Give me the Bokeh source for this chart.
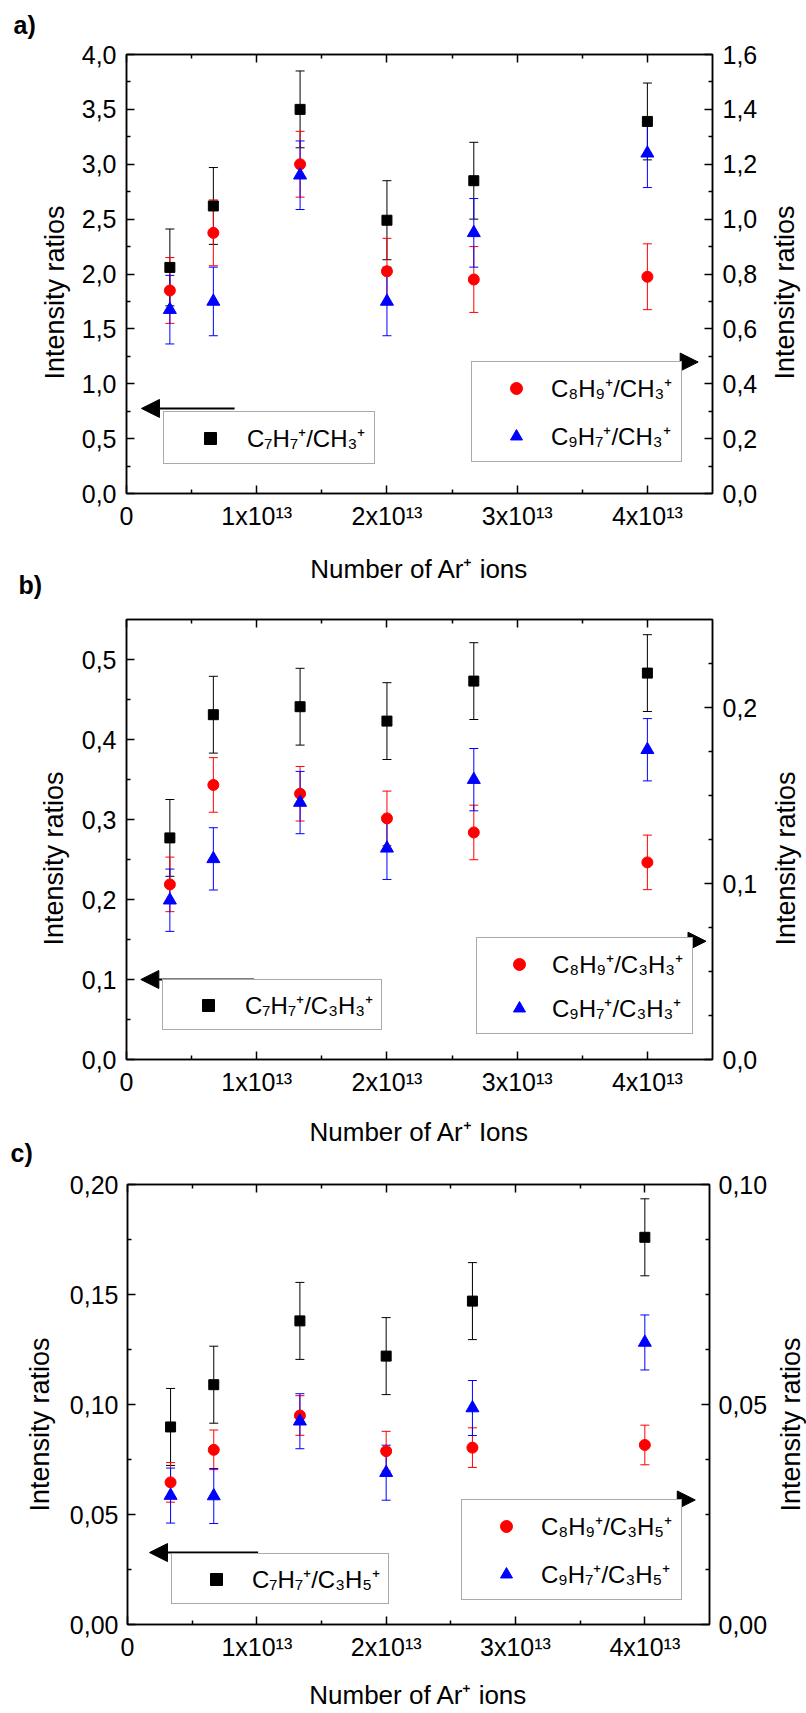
import math
from bokeh.plotting import figure
from bokeh.models import (LinearAxis, Range1d, FixedTicker, CustomJSTickFormatter,
                          Whisker, TeeHead, ColumnDataSource, Legend, LegendItem,
                          Arrow, NormalHead, Label)
from bokeh.layouts import column, row
from bokeh.embed import file_html
from bokeh.resources import INLINE

FONT = "Liberation Sans"

# ---------------- data ----------------
ions = [0.333e13, 0.667e13, 1.333e13, 2.0e13, 2.667e13, 4.0e13]

# panel a (C7H7+ on left axis, C8H9+ and C9H7+ on right axis)
a_c7h7 = [2.06, 2.62, 3.50, 2.49, 2.85, 3.39]
a_c7h7_err = [0.35, 0.35, 0.35, 0.36, 0.35, 0.35]
a_c8h9 = [0.74, 0.95, 1.20, 0.81, 0.78, 0.79]
a_c8h9_err = [0.12, 0.12, 0.12, 0.12, 0.12, 0.12]
a_c9h7 = [0.67, 0.70, 1.16, 0.70, 0.95, 1.24]
a_c9h7_err = [0.125, 0.125, 0.125, 0.125, 0.125, 0.125]

# panel b
b_c7h7 = [0.277, 0.431, 0.441, 0.423, 0.473, 0.483]
b_c7h7_err = [0.048, 0.048, 0.048, 0.048, 0.048, 0.048]
b_c8h9 = [0.0995, 0.156, 0.151, 0.137, 0.129, 0.112]
b_c8h9_err = [0.0155, 0.0155, 0.0155, 0.0155, 0.0155, 0.0155]
b_c9h7 = [0.0905, 0.114, 0.146, 0.120, 0.159, 0.176]
b_c9h7_err = [0.0177, 0.0177, 0.0177, 0.0177, 0.0177, 0.0177]

# panel c
c_c7h7 = [0.0898, 0.109, 0.138, 0.122, 0.147, 0.176]
c_c7h7_err = [0.0175, 0.0175, 0.0175, 0.0175, 0.0175, 0.0175]
c_c8h9 = [0.0323, 0.0397, 0.0475, 0.0394, 0.0402, 0.0408]
c_c8h9_err = [0.0045, 0.0045, 0.0045, 0.0045, 0.0045, 0.0045]
c_c9h7 = [0.0293, 0.0292, 0.0462, 0.0345, 0.0492, 0.0641]
c_c9h7_err = [0.00625, 0.00625, 0.00625, 0.00625, 0.00625, 0.00625]

x_major = [0, 1e13, 2e13, 3e13, 4e13]
x_minor = [0.5e13, 1.5e13, 2.5e13, 3.5e13]

a_left_major = [0, 0.5, 1.0, 1.5, 2.0, 2.5, 3.0, 3.5, 4.0]
a_left_minor = [0.25, 0.75, 1.25, 1.75, 2.25, 2.75, 3.25, 3.75]
a_right_major = [0, 0.2, 0.4, 0.6, 0.8, 1.0, 1.2, 1.4, 1.6]
a_right_minor = [0.1, 0.3, 0.5, 0.7, 0.9, 1.1, 1.3, 1.5]

b_left_major = [0, 0.1, 0.2, 0.3, 0.4, 0.5]
b_left_minor = [0.05, 0.15, 0.25, 0.35, 0.45]
b_right_major = [0, 0.1, 0.2]
b_right_minor = [0.025, 0.05, 0.075, 0.125, 0.15, 0.175, 0.225]

c_left_major = [0, 0.05, 0.10, 0.15, 0.20]
c_left_minor = [0.025, 0.075, 0.125, 0.175]
c_right_major = [0, 0.05, 0.10]
c_right_minor = [0.0125, 0.025, 0.0375, 0.0625, 0.075, 0.0875]

a_labels = ["C\u2087H\u2087\u207a/CH\u2083\u207a", "C\u2088H\u2089\u207a/CH\u2083\u207a", "C\u2089H\u2087\u207a/CH\u2083\u207a"]
b_labels = ["C\u2087H\u2087\u207a/C\u2083H\u2083\u207a", "C\u2088H\u2089\u207a/C\u2083H\u2083\u207a", "C\u2089H\u2087\u207a/C\u2083H\u2083\u207a"]
c_labels = ["C\u2087H\u2087\u207a/C\u2083H\u2085\u207a", "C\u2088H\u2089\u207a/C\u2083H\u2085\u207a", "C\u2089H\u2087\u207a/C\u2083H\u2085\u207a"]

Y_TITLE = "Intensity ratios"

X_FMT = ("if (Math.abs(tick) < 1) { return '0'; } "
         "return Math.round(tick / 1e13) + 'x10\u00b9\u00b3';")

PAGE_W = 806
FRAME_W = 586


def style_axis(ax, size="25px"):
    ax.axis_line_color = "black"
    ax.axis_line_width = 1.5
    ax.major_tick_line_color = "black"
    ax.major_tick_line_width = 1.5
    ax.minor_tick_line_color = "black"
    ax.minor_tick_line_width = 1.5
    ax.major_tick_in = 8
    ax.major_tick_out = 0
    ax.minor_tick_in = 4
    ax.minor_tick_out = 0
    ax.major_label_text_font = FONT
    ax.major_label_text_font_size = size
    ax.major_label_text_color = "black"
    ax.axis_label_text_font = FONT
    ax.axis_label_text_font_size = "26px"
    ax.axis_label_text_font_style = "normal"
    ax.axis_label_text_color = "black"


def add_series(p, y, err, color, marker, size, rname):
    src = ColumnDataSource(dict(x=ions, y=y,
                                lo=[v - e for v, e in zip(y, err)],
                                hi=[v + e for v, e in zip(y, err)]))
    w = Whisker(source=src, base="x", upper="hi", lower="lo", dimension="height",
                line_color=color, line_width=1, y_range_name=rname,
                upper_head=TeeHead(size=9, line_color=color, line_width=1),
                lower_head=TeeHead(size=9, line_color=color, line_width=1))
    p.add_layout(w)
    r = p.scatter("x", "y", source=src, marker=marker, size=size,
                  fill_color=color, line_color=color, y_range_name=rname)
    return r


def make_legend(items, loc, pad, spacing, gw, ls):
    return Legend(items=items, location=loc, orientation="vertical", margin=0,
                  padding=pad, spacing=spacing, glyph_width=gw, glyph_height=30,
                  label_height=30, label_standoff=ls, label_text_font=FONT,
                  label_text_font_size="24px", label_text_color="black",
                  border_line_color="#555555", border_line_width=1.5,
                  background_fill_color="white", background_fill_alpha=1.0)


def side_fig(width, height, texts):
    """A blank strip holding free text (panel letters, axis titles)."""
    f = figure(width=width, height=height, x_range=Range1d(0, width), y_range=Range1d(0, height),
               output_backend="svg", toolbar_location=None, title=None,
               x_axis_location=None, y_axis_location=None, frame_align=False,
               min_border_left=0, min_border_right=0, min_border_top=0, min_border_bottom=0)
    for g in f.grid:
        g.visible = False
    f.outline_line_color = None
    f.background_fill_color = "white"
    f.border_fill_color = "white"
    for (x, y, txt, size, style, angle, align) in texts:
        f.add_layout(Label(x=x, y=y, text=txt, angle=angle, text_font=FONT,
                           text_font_size=size, text_font_style=style, text_color="black",
                           text_baseline="middle", text_align=align))
    return f


def make_panel(cfg):
    lw = cfg["left_w"]            # width of the strip left of the plot
    lb = 126 - lw                 # plot's own left border -> frame starts at x=126
    rb = cfg["right"]
    p = figure(width=lb + FRAME_W + rb, height=cfg["height"], title=None,
               x_range=Range1d(0, 4.5e13), y_range=Range1d(0, cfg["ymax_l"]),
               output_backend="svg", toolbar_location=None, frame_align=False,
               min_border_left=lb, min_border_right=rb,
               min_border_top=cfg["top"], min_border_bottom=cfg["bottom"])
    p.extra_y_ranges = {"r": Range1d(0, cfg["ymax_r"])}
    p.xgrid.visible = False
    p.ygrid.visible = False
    p.outline_line_color = "black"
    p.outline_line_width = 1.5
    p.outline_line_alpha = 1.0
    p.background_fill_color = "white"
    p.border_fill_color = "white"

    xa = p.xaxis[0]
    style_axis(xa)
    xa.ticker = FixedTicker(ticks=x_major, minor_ticks=x_minor)
    xa.formatter = CustomJSTickFormatter(code=X_FMT)
    xa.axis_label = cfg["xlabel"]
    xa.major_label_standoff = 8
    xa.axis_label_standoff = cfg["x_title_standoff"]

    top = LinearAxis(ticker=FixedTicker(ticks=x_major, minor_ticks=x_minor))
    style_axis(top, "1px")
    top.major_label_text_color = None
    top.major_label_standoff = 0
    p.add_layout(top, "above")

    ya = p.yaxis[0]
    style_axis(ya)
    ya.ticker = FixedTicker(ticks=cfg["l_major"], minor_ticks=cfg["l_minor"])
    ya.formatter = CustomJSTickFormatter(
        code="return tick.toFixed(%d).replace('.', ',');" % cfg["l_dec"])
    ya.major_label_standoff = cfg["l_standoff"]

    ra = LinearAxis(y_range_name="r",
                    ticker=FixedTicker(ticks=cfg["r_major"], minor_ticks=cfg["r_minor"]),
                    formatter=CustomJSTickFormatter(
                        code="return tick.toFixed(%d).replace('.', ',');" % cfg["r_dec"]))
    style_axis(ra)
    ra.major_label_standoff = cfg["r_standoff"]
    p.add_layout(ra, "right")

    r_black = add_series(p, cfg["s7"], cfg["s7e"], "black", "square", 10, "default")
    r_red = add_series(p, cfg["s8"], cfg["s8e"], "red", "circle", 11, "r")
    r_blue = add_series(p, cfg["s9"], cfg["s9e"], "blue", "triangle", 13, "r")

    labels = cfg["labels"]
    ll = cfg["leg_left"]
    lr = cfg["leg_right"]
    p.add_layout(make_legend([LegendItem(label=labels[0], renderers=[r_black])],
                             ll[0], ll[1], 0, ll[2], ll[3]))
    p.add_layout(make_legend([LegendItem(label=labels[1], renderers=[r_red]),
                              LegendItem(label=labels[2], renderers=[r_blue])],
                             lr[0], lr[1], lr[4], lr[2], lr[3]))

    al = cfg["arrow_left"]
    ar = cfg["arrow_right"]
    p.add_layout(Arrow(end=NormalHead(size=18, fill_color="black", line_color="black", line_width=1),
                       x_start=al[0], x_end=al[1], y_start=al[2], y_end=al[2],
                       line_color="black", line_width=2))
    p.add_layout(Arrow(end=NormalHead(size=18, fill_color="black", line_color="black", line_width=1),
                       x_start=ar[0], x_end=ar[1], y_start=ar[2], y_end=ar[2],
                       line_color="black", line_width=2, y_range_name="r"))

    h = cfg["height"]
    left = side_fig(lw, h, cfg["left_texts"])
    right_w = PAGE_W - lw - (lb + FRAME_W + rb)
    rx, ry = cfg["r_title"]
    right = side_fig(right_w, h, [(rx, ry, Y_TITLE, "27px", "normal", math.pi / 2, "center")])
    return row(left, p, right, spacing=0)


V = math.pi / 2

ra_ = make_panel(dict(
    height=600, top=54, bottom=107, left_w=72, right=50, ymax_l=4.0, ymax_r=1.6,
    xlabel="Number of Ar\u207a ions", x_title_standoff=21,
    l_major=a_left_major, l_minor=a_left_minor, l_dec=1, l_standoff=10,
    r_major=a_right_major, r_minor=a_right_minor, r_dec=1, r_standoff=10,
    s7=a_c7h7, s7e=a_c7h7_err, s8=a_c8h9, s8e=a_c8h9_err, s9=a_c9h7, s9e=a_c9h7_err,
    labels=a_labels,
    leg_left=[(37, 29), 9, 74, 0],
    leg_right=[(345, 31), 9, 70, 0, 15],
    arrow_left=[0.83e13, 0.115e13, 0.775],
    arrow_right=[3.69e13, 4.39e13, 0.479],
    left_texts=[(54, 308, Y_TITLE, "27px", "normal", V, "center"),
                (13, 576, "a)", "25px", "bold", 0.0, "left"),
                (18, 16, "b)", "25px", "bold", 0.0, "left")],
    r_title=(22, 308)))

rb_ = make_panel(dict(
    height=568, top=19, bottom=109, left_w=72, right=50, ymax_l=0.55, ymax_r=0.25,
    xlabel="Number of Ar\u207a Ions", x_title_standoff=18,
    l_major=b_left_major, l_minor=b_left_minor, l_dec=1, l_standoff=10,
    r_major=b_right_major, r_minor=b_right_minor, r_dec=1, r_standoff=10,
    s7=b_c7h7, s7e=b_c7h7_err, s8=b_c8h9, s8e=b_c8h9_err, s9=b_c9h7, s9e=b_c9h7_err,
    labels=b_labels,
    leg_left=[(36, 29), 8, 74, 0],
    leg_right=[(350, 25), 9, 66, 0, 11],
    arrow_left=[0.98e13, 0.11e13, 0.1],
    arrow_right=[3.57e13, 4.45e13, 0.0672],
    left_texts=[(53, 310, Y_TITLE, "27px", "normal", V, "center"),
                (10, 16, "c)", "25px", "bold", 0.0, "left")],
    r_title=(23, 310)))

rc_ = make_panel(dict(
    height=545, top=16, bottom=89, left_w=66, right=58, ymax_l=0.20, ymax_r=0.10,
    xlabel="Number of Ar\u207a ions", x_title_standoff=16,
    l_major=c_left_major, l_minor=c_left_minor, l_dec=2, l_standoff=9,
    r_major=c_right_major, r_minor=c_right_minor, r_dec=2, r_standoff=9,
    s7=c_c7h7, s7e=c_c7h7_err, s8=c_c8h9, s8e=c_c8h9_err, s9=c_c9h7, s9e=c_c9h7_err,
    labels=c_labels,
    leg_left=[(44, 20), 8, 72, 0],
    leg_right=[(334, 24), 9, 70, 0, 15],
    arrow_left=[1.01e13, 0.17e13, 0.0327],
    arrow_right=[3.44e13, 4.39e13, 0.0283],
    left_texts=[(39, 289, Y_TITLE, "27px", "normal", V, "center")],
    r_title=(20, 289)))

layout = column(ra_, rb_, rc_, spacing=0)
open("out.html", "w").write(file_html(layout, INLINE))
